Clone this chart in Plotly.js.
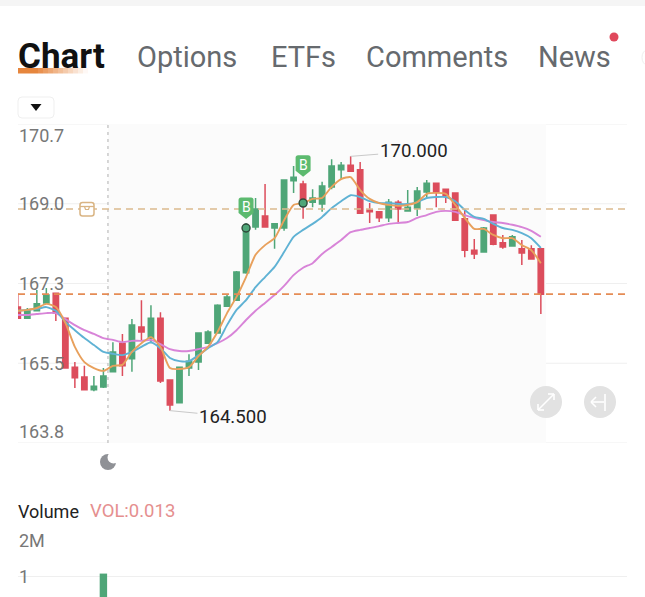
<!DOCTYPE html>
<html><head><meta charset="utf-8">
<script src="https://cdn.plot.ly/plotly-3.0.1.min.js"></script>
<style>html,body{margin:0;padding:0;background:#fff;overflow:hidden}#c{width:645px;height:597px}</style>
</head><body><div id="c"></div>
<script>
const opens=[166.74,166.50,166.66,166.83,167.04,166.50,165.44,165.23,164.95,165.01,165.34,165.96,165.62,166.31,166.07,166.50,165.16,164.67,165.42,165.55,165.96,166.18,166.76,166.89,167.48,168.47,168.71,168.45,168.45,169.47,169.40,169.01,168.97,169.34,169.71,169.81,169.71,168.84,168.80,168.67,169.01,168.82,168.88,169.23,169.42,169.29,169.21,168.65,167.97,167.93,168.73,168.13,168.06,168.00,168.00,168.00];
const highs=[167.04,166.72,167.11,167.15,167.04,166.50,165.55,165.47,165.25,165.42,165.98,166.16,166.48,166.89,166.78,166.63,165.16,165.44,165.72,166.18,166.24,166.80,167.00,167.52,168.56,169.10,169.40,168.56,169.49,169.79,169.47,169.29,169.45,169.94,169.88,170.00,169.88,168.99,168.82,169.08,169.05,169.27,169.34,169.49,169.42,169.29,169.21,168.86,168.21,168.47,168.73,168.30,168.30,168.19,168.08,168.00];
const lows=[166.50,166.50,166.66,166.81,166.44,165.42,164.99,164.95,164.92,164.99,165.34,165.25,165.34,166.03,165.96,165.10,164.50,164.67,165.25,165.38,165.96,166.18,166.74,166.87,167.46,168.41,168.47,168.00,168.39,169.21,168.65,168.90,168.80,169.29,169.51,169.68,168.77,168.56,168.58,168.58,168.58,168.82,168.71,169.10,168.90,168.99,168.62,167.82,167.78,167.93,168.08,168.00,168.06,167.65,167.78,166.59];
const closes=[166.50,166.66,166.81,167.00,166.61,165.42,165.21,164.95,165.03,165.25,165.77,165.47,166.35,166.20,166.50,165.14,164.62,165.44,165.57,166.18,166.20,166.78,166.96,167.50,168.45,168.86,168.47,168.54,169.49,169.55,168.99,169.10,169.36,169.79,169.81,169.68,168.77,168.80,168.67,169.01,168.86,168.90,169.25,169.42,169.23,169.16,168.62,167.97,167.89,168.45,168.10,168.04,168.26,167.91,167.78,167.02];
const maFast=[166.66,166.68,166.72,166.81,166.74,166.40,165.88,165.55,165.42,165.36,165.47,165.49,165.77,165.96,166.09,165.88,165.42,165.40,165.44,165.68,165.88,166.20,166.61,166.96,167.39,167.87,168.08,168.23,168.62,168.95,168.99,169.08,169.10,169.34,169.51,169.55,169.27,169.08,168.99,168.95,168.93,168.95,169.01,169.19,169.21,169.19,168.95,168.67,168.43,168.43,168.30,168.23,168.23,168.08,167.97,167.69];
const maMid=[166.66,166.68,166.70,166.74,166.66,166.42,166.24,166.07,165.92,165.77,165.73,165.70,165.77,165.88,165.98,165.85,165.64,165.57,165.57,165.70,165.85,165.98,166.35,166.68,166.89,167.17,167.39,167.61,167.93,168.26,168.41,168.54,168.69,168.88,169.03,169.16,169.12,169.03,168.99,168.99,168.97,168.97,169.01,169.10,169.12,169.12,169.03,168.84,168.69,168.65,168.54,168.45,168.41,168.34,168.23,168.02];
const maSlow=[166.57,166.57,166.59,166.61,166.61,166.48,166.35,166.24,166.16,166.07,166.03,165.98,166.01,166.01,166.03,165.94,165.83,165.79,165.79,165.83,165.88,165.96,166.07,166.24,166.46,166.66,166.83,167.00,167.20,167.43,167.59,167.69,167.89,168.04,168.19,168.36,168.41,168.45,168.49,168.54,168.56,168.58,168.67,168.73,168.80,168.82,168.80,168.73,168.67,168.62,168.58,168.56,168.52,168.47,168.39,168.26];
const gridValues=[170.7,168.975,167.25,165.525,163.8];
const gridLabels=["170.7","169.0","167.3","165.5","163.8"];
const volIndex=[9], volValues=[1.06];
const volGrid=[2,1], volLabels=["2M","1"];
const prevClose=168.86, lastPrice=167.02;
const buySignals=[24,30];
const tabs=["Chart","Options","ETFs","Comments","News"];

const W=645,H=597,px=x=>x/W,py=y=>1-y/H;
const idx=opens.map((_,i)=>i);
const F='Roboto, sans-serif';
const green='#4fa678',red='#dc4d5c';

const traces=[
 {type:'candlestick',x:idx,open:opens,high:highs,low:lows,close:closes,xaxis:'x',yaxis:'y',whiskerwidth:0,
  increasing:{line:{color:green,width:1.5},fillcolor:green},decreasing:{line:{color:red,width:1.5},fillcolor:red},hoverinfo:'skip'},
 {type:'scatter',mode:'lines',x:idx,y:maSlow,line:{color:'#d884d8',width:1.9,shape:'spline',smoothing:0.6},hoverinfo:'skip'},
 {type:'scatter',mode:'lines',x:idx,y:maMid,line:{color:'#5fb2d4',width:1.9,shape:'spline',smoothing:0.6},hoverinfo:'skip'},
 {type:'scatter',mode:'lines',x:idx,y:maFast,line:{color:'#e8a05c',width:1.9,shape:'spline',smoothing:0.6},hoverinfo:'skip'},
 {type:'scatter',mode:'markers',x:buySignals,y:buySignals.map(i=>closes[i]),marker:{size:8,color:'#4fa678',line:{color:'#2d4a3a',width:1.4}},hoverinfo:'skip'},
 {type:'bar',x:volIndex,y:volValues,width:0.78,xaxis:'x2',yaxis:'y2',marker:{color:green,line:{width:0}},hoverinfo:'skip'}
];

const paper=o=>Object.assign({xref:'paper',yref:'paper',line:{width:0}},o);
const rectP=(x0,y0,x1,y1,c,o)=>paper(Object.assign({type:'rect',x0:px(x0),x1:px(x1),y0:py(y0),y1:py(y1),fillcolor:c},o||{}));
const circP=(cx,cy,r,c,o)=>paper(Object.assign({type:'circle',x0:px(cx-r),x1:px(cx+r),y0:py(cy-r),y1:py(cy+r),fillcolor:c},o||{}));
const lineP=(x0,y0,x1,y1,c,w)=>paper({type:'line',x0:px(x0),x1:px(x1),y0:py(y0),y1:py(y1),line:{color:c,width:w}});
const pathP=(pts,o)=>paper(Object.assign({type:'path',path:pts.map((p,i)=>(i?'L':'M')+px(p[0])+','+py(p[1])).join(' ')},o));
const P=(x,y)=>px(x)+','+py(y);
const roundP=(x0,y0,x1,y1,r,o)=>paper(Object.assign({type:'path',path:
 'M'+P(x0+r,y0)+' L'+P(x1-r,y0)+' Q'+P(x1,y0)+' '+P(x1,y0+r)+' L'+P(x1,y1-r)+' Q'+P(x1,y1)+' '+P(x1-r,y1)+' L'+P(x0+r,y1)+' Q'+P(x0,y1)+' '+P(x0,y1-r)+' L'+P(x0,y0+r)+' Q'+P(x0,y0)+' '+P(x0+r,y0)+' Z'},o));

const shapes=[
 rectP(0,0,645,6,'#f5f5f5',{layer:'below'}),
 {type:'rect',xref:'x',yref:'y',x0:9.48,x1:55.54,y0:163.8,y1:170.7,fillcolor:'#fbfbfb',line:{width:0},layer:'below'},
 {type:'line',xref:'x',yref:'y',x0:9.48,x1:9.48,y0:163.8,y1:170.7,line:{color:'#bdbdbd',width:1.2,dash:'3px,4px'},layer:'above'},
 {type:'line',xref:'paper',yref:'y',x0:px(18),x1:px(627),y0:prevClose,y1:prevClose,line:{color:'#dcbb8e',width:1.6,dash:'7px,5px'}},
 {type:'line',xref:'paper',yref:'y',x0:px(18),x1:px(627),y0:lastPrice,y1:lastPrice,line:{color:'#e58c55',width:1.6,dash:'7px,5px'}}
];
// grid drawn over the shaded panel
gridValues.forEach(v=>shapes.push({type:'line',xref:'paper',yref:'y',x0:px(18),x1:px(627),y0:v,y1:v,line:{color:'#efefef',width:1},layer:'below'}));
// tab underline fading to the right
for(let i=0;i<14;i++){shapes.push(rectP(18+i*5,68,23+i*5,73.5,'#e57f33',{opacity:i<4?0.95:Math.max(0.04,0.95-(i-3)*0.09),layer:'below'}));}
// notification dot, faint right-edge circle
shapes.push(circP(614,37,4.5,'#e0485c'));
shapes.push(paper({type:'circle',x0:px(642),x1:px(652),y0:py(50),y1:py(65),fillcolor:'#ffffff',line:{color:'#eeeeee',width:1}}));
// dropdown button
shapes.push(roundP(18,97,54,118,4,{fillcolor:'#ffffff',line:{color:'#efefef',width:1}}));
shapes.push(pathP([[30.5,104],[41.5,104],[36,111]],{fillcolor:'#111111'}));
// box badge
shapes.push(roundP(80,202.5,94,216,2.5,{fillcolor:'#ffffff',line:{color:'#d9b483',width:1.5}}));
shapes.push(lineP(80,206.5,94,206.5,'#d9b483',1.3));
shapes.push(pathP([[84.5,206.5],[85.5,209.5],[88.5,209.5],[89.5,206.5]],{fillcolor:'rgba(0,0,0,0)',line:{color:'#d9b483',width:1.2}}));
// moon
shapes.push(circP(108,462,8,'#8f9196'));
shapes.push(circP(113.5,457.5,6,'#ffffff'));
// round buttons
shapes.push(circP(546,402,16,'#e2e2e2'));
shapes.push(circP(600,402,16,'#e2e2e2'));
[[538,410,554,394],[538,404,538,410],[538,410,544,410],[554,394,548,394],[554,394,554,400]].forEach(s=>shapes.push(lineP(s[0],s[1],s[2],s[3],'#ffffff',1.6)));
[[591,402,604,402],[591,402,596,397],[591,402,596,407],[605,394,605,411]].forEach(s=>shapes.push(lineP(s[0],s[1],s[2],s[3],'#ffffff',1.6)));
// buy pins, anchored to each candle's high
buySignals.forEach(i=>{
 shapes.push({type:'path',xref:'x',yref:'y',xsizemode:'pixel',ysizemode:'pixel',xanchor:i,yanchor:highs[i],
  path:'M0,4 L-7.5,10 L-7.5,23 Q-7.5,25.5 -5,25.5 L5,25.5 Q7.5,25.5 7.5,23 L7.5,10 Z',fillcolor:'#5cba6f',line:{width:0}});
});

const label=(x,y,text,size,color,extra)=>Object.assign({xref:'paper',yref:'paper',x:px(x),y:py(y),text,showarrow:false,xanchor:'left',yanchor:'middle',
  font:{family:F,size,color},borderpad:0,borderwidth:0},extra||{});
const tabX=[18,137,271,366,538];
const annotations=tabs.map((t,i)=>label(tabX[i],57,i?t:'<b>'+t+'</b>',i?29:35,i?'#666a6e':'#111111'));
gridLabels.forEach((t,i)=>{
 const a={xref:'paper',yref:'y',x:px(18),y:gridValues[i],text:t,showarrow:false,xanchor:'left',font:{family:F,size:18,color:'#777777'},
  yanchor:i===0?'top':(i===gridLabels.length-1?'bottom':'middle'),borderpad:0};
 annotations.push(a);
});
annotations.push(label(18,511,'Volume',18,'#222222'));
annotations.push(label(90,511,'VOL:0.013',18.5,'#e58f8f'));
volLabels.forEach((t,i)=>{
 annotations.push({xref:'paper',yref:'y2',x:px(18),y:volGrid[i],text:t,showarrow:false,xanchor:'left',yanchor:i?'middle':'top',yshift:i?0:-1,font:{family:F,size:18,color:'#777777'},borderpad:0});
});
const hi=highs.indexOf(Math.max(...highs)), lo=lows.indexOf(Math.min(...lows));
annotations.push({xref:'x',yref:'y',x:hi,y:highs[hi],text:Math.max(...highs).toFixed(3),showarrow:true,arrowhead:0,arrowwidth:1,arrowcolor:'#c9c9c9',ax:63,ay:-5,axref:'pixel',ayref:'pixel',standoff:0,font:{family:F,size:18.6,color:'#222222'}});
annotations.push({xref:'x',yref:'y',x:lo,y:lows[lo],text:Math.min(...lows).toFixed(3),showarrow:true,arrowhead:0,arrowwidth:1,arrowcolor:'#c9c9c9',ax:63,ay:6,axref:'pixel',ayref:'pixel',standoff:0,font:{family:F,size:18.6,color:'#222222'}});
buySignals.forEach(i=>annotations.push({xref:'x',yref:'y',x:i,y:highs[i],yshift:16,text:'B',showarrow:false,font:{family:F,size:14,color:'#ffffff'}}));

const xr=[0.02,64.06];
const layout={width:W,height:H,margin:{l:0,r:0,t:0,b:0,pad:0},paper_bgcolor:'#ffffff',plot_bgcolor:'rgba(0,0,0,0)',showlegend:false,boxgap:0.2,
 xaxis:{domain:[px(18),px(627)],range:xr,showgrid:false,zeroline:false,showticklabels:false,ticks:'',rangeslider:{visible:false},showline:false,anchor:'y'},
 yaxis:{domain:[py(443),py(124)],range:[163.8,170.7],tickvals:gridValues,showticklabels:false,ticks:'',showgrid:false,zeroline:false,anchor:'x'},
 xaxis2:{domain:[px(18),px(627)],range:xr,showgrid:false,zeroline:false,showticklabels:false,ticks:'',anchor:'y2'},
 yaxis2:{domain:[0,py(528)],range:[0.577,2],tickvals:volGrid,showticklabels:false,ticks:'',gridcolor:'#efefef',gridwidth:1,zeroline:false,anchor:'x2'},
 shapes,annotations};
Plotly.newPlot('c',traces,layout,{displayModeBar:false,staticPlot:true,responsive:false});
</script></body></html>
